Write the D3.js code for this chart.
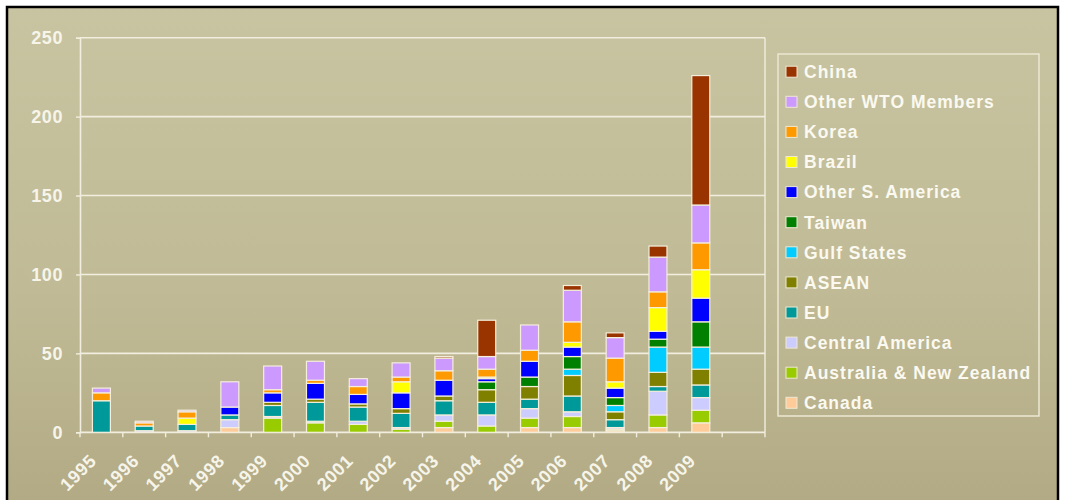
<!DOCTYPE html>
<html>
<head>
<meta charset="utf-8">
<script src="https://cdn.jsdelivr.net/npm/d3@7"></script>
<style>
  html, body { margin: 0; padding: 0; background: #ffffff; }
  svg { display: block; }
  text { font-family: "Liberation Sans", Arial, sans-serif; font-weight: bold; }
</style>
</head>
<body>
<svg id="chart" width="1068" height="500"></svg>
<script>
// Years on the category axis
const years = ["1995","1996","1997","1998","1999","2000","2001","2002",
               "2003","2004","2005","2006","2007","2008","2009"];

// Value axis ticks
const yTicks = [0, 50, 100, 150, 200, 250];

// Series, listed from the bottom of each stack upward
const seriesNames = ["Canada","Australia & New Zealand","Central America","EU","ASEAN",
                     "Gulf States","Taiwan","Other S. America","Brazil","Korea",
                     "Other WTO Members","China"];
const canada    = [0, 0, 0, 3, 0, 0, 0, 0, 3, 0, 3, 3, 1, 3, 6];
const ausNZ     = [0, 0, 0, 0, 9, 6, 5, 2, 4, 4, 6, 7, 1, 8, 8];
const centralAm = [0, 1, 1, 5, 1, 1, 2, 1, 4, 7, 6, 3, 1, 15, 8];
const eu        = [20, 3, 4, 3, 7, 12, 9, 9, 9, 8, 6, 10, 5, 3, 8];
const asean     = [0, 0, 0, 0, 2, 2, 2, 3, 3, 8, 8, 13, 5, 9, 10];
const gulf      = [0, 0, 0, 0, 0, 0, 0, 0, 0, 0, 0, 4, 4, 16, 14];
const taiwan    = [0, 0, 0, 0, 0, 0, 0, 0, 0, 5, 6, 8, 5, 5, 16];
const otherSAm  = [0, 0, 0, 5, 6, 10, 6, 10, 10, 2, 10, 6, 6, 5, 15];
const brazil    = [0, 0, 4, 0, 0, 0, 0, 7, 0, 1, 0, 3, 4, 15, 18];
const korea     = [5, 2, 4, 0, 2, 2, 5, 3, 6, 5, 7, 13, 15, 10, 17];
const otherWTO  = [3, 1, 1, 16, 15, 12, 5, 9, 8, 8, 16, 20, 13, 22, 24];
const china     = [0, 0, 0, 0, 0, 0, 0, 0, 1, 23, 0, 3, 3, 7, 82];

const seriesValues = [canada, ausNZ, centralAm, eu, asean, gulf, taiwan,
                      otherSAm, brazil, korea, otherWTO, china];
const seriesColors = ["#FFCC99","#99CC00","#CCCCFF","#009999","#808000","#00CCFF",
                      "#008000","#0000FF","#FFFF00","#FF9900","#CC99FF","#993300"];

// Table for d3.stack
const rows = years.map((y, i) => {
  const r = { year: y };
  seriesNames.forEach((n, k) => { r[n] = seriesValues[k][i]; });
  return r;
});

const svg = d3.select("#chart");

// Framed panel with a khaki gradient
const defs = svg.append("defs");
const grad = defs.append("linearGradient").attr("id", "bg")
  .attr("x1", 0).attr("y1", 0).attr("x2", 0).attr("y2", 1);
grad.append("stop").attr("offset", "0%").attr("stop-color", "#c8c4a1");
grad.append("stop").attr("offset", "55%").attr("stop-color", "#c0bb96");
grad.append("stop").attr("offset", "100%").attr("stop-color", "#b1a984");

svg.append("rect").attr("x", 7).attr("y", 7).attr("width", 1051).attr("height", 510)
  .attr("fill", "url(#bg)").attr("stroke", "#000").attr("stroke-width", 2.5);

// Scales (one empty slot after the last year)
const x = d3.scaleBand().domain(years.concat([" "])).range([80, 765])
  .paddingInner(0.58).paddingOuter(0.29);
const step = x.step();
const y = d3.scaleLinear().domain([0, 250]).range([432.3, 37.7]);

const lineCol = "#f1eedf";

// Horizontal gridlines
svg.append("g").selectAll("line").data(yTicks.filter(t => t > 0)).join("line")
  .attr("x1", 80).attr("x2", 765)
  .attr("y1", d => y(d)).attr("y2", d => y(d))
  .attr("stroke", lineCol).attr("stroke-width", 1.6);

// Right edge of plot
svg.append("line").attr("x1", 765).attr("x2", 765).attr("y1", y(250)).attr("y2", y(0))
  .attr("stroke", lineCol).attr("stroke-width", 1.4);

// Y axis
const yAxis = svg.append("g").attr("transform", "translate(80,0)")
  .call(d3.axisLeft(y).tickValues(yTicks).tickSize(4).tickPadding(13));
yAxis.select(".domain").attr("stroke", lineCol).attr("stroke-width", 1.6);
yAxis.selectAll(".tick line").attr("stroke", lineCol).attr("stroke-width", 1.4);
yAxis.selectAll(".tick text")
  .attr("fill", "#f7f5ea").attr("font-size", 18).attr("font-family", "Liberation Sans, Arial, sans-serif")
  .attr("font-weight", "bold").attr("letter-spacing", 0.6);

// X axis baseline and slot ticks
svg.append("line").attr("x1", 80).attr("x2", 765).attr("y1", y(0)).attr("y2", y(0))
  .attr("stroke", lineCol).attr("stroke-width", 1.8);
svg.append("g").selectAll("line").data(d3.range(years.length + 2)).join("line")
  .attr("x1", i => 80 + i * step).attr("x2", i => 80 + i * step)
  .attr("y1", y(0)).attr("y2", y(0) + 5)
  .attr("stroke", lineCol).attr("stroke-width", 1.4);

// Stacked bars
const stack = d3.stack().keys(seriesNames);
const layers = stack(rows);
svg.append("g").selectAll("g").data(layers).join("g")
  .attr("fill", (d, i) => seriesColors[i])
  .selectAll("rect").data(d => d.filter(s => s[1] - s[0] > 0)).join("rect")
  .attr("x", d => x(d.data.year))
  .attr("width", x.bandwidth())
  .attr("y", d => y(d[1]))
  .attr("height", d => y(d[0]) - y(d[1]))
  .attr("stroke", "#f4eedb").attr("stroke-width", 1.2);

// Rotated year labels
svg.append("g").selectAll("text").data(years).join("text")
  .attr("transform", d => `translate(${x(d) + x.bandwidth() / 2 - 4},${462}) rotate(-45)`)
  .attr("text-anchor", "end")
  .attr("fill", "#f7f5ea").attr("font-size", 18).attr("letter-spacing", 0.6)
  .text(d => d);

// Legend, top entry is the top of the stack
const legend = svg.append("g");
legend.append("rect").attr("x", 778).attr("y", 54).attr("width", 261).attr("height", 362)
  .attr("fill", "none").attr("stroke", "#ece8d3").attr("stroke-width", 1.5);
const order = d3.range(seriesNames.length).reverse();
const items = legend.selectAll("g.item").data(order).join("g").attr("class", "item")
  .attr("transform", (d, i) => `translate(786,${71.7 + i * 30.1})`);
items.append("rect").attr("x", 0).attr("y", -5.5).attr("width", 11).attr("height", 11)
  .attr("fill", d => seriesColors[d]).attr("stroke", "#efe9d3").attr("stroke-width", 1);
items.append("text").attr("x", 18).attr("y", 0).attr("dy", "0.36em")
  .attr("fill", "#fbf9f0").attr("font-size", 17.5).attr("letter-spacing", 1.0)
  .text(d => seriesNames[d]);
</script>
</body>
</html>
